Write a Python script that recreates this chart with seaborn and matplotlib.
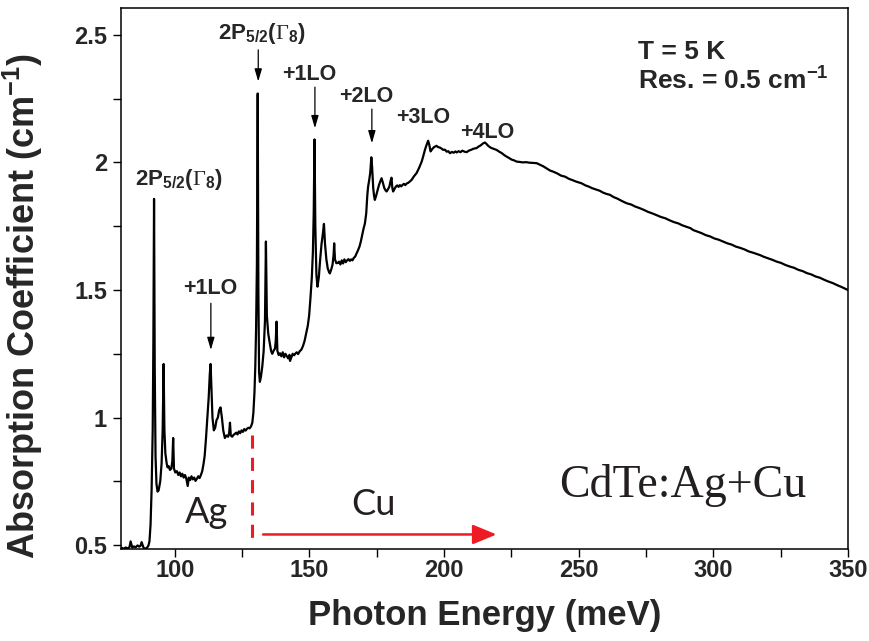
import numpy as np
import pandas as pd
import seaborn as sns
import matplotlib.pyplot as plt
from matplotlib.ticker import MultipleLocator, FuncFormatter

# spectrum (photon energy in meV, absorption in cm^-1)
energy = [80.3, 81.0, 81.8, 82.5, 83.2, 83.6, 84.2, 84.8, 85.5, 86.2, 86.8, 87.3, 87.7, 88.4, 89.0, 89.6, 90.2, 90.6,
          91.0, 91.4, 91.8, 92.05, 92.3, 92.55, 92.85, 93.2, 93.6, 94.0, 94.6, 95.1, 95.5, 95.85, 96.15, 96.5,
          97.0, 97.3, 97.7, 98.2, 98.7, 99.1, 99.4, 99.7, 100.2, 100.8, 101.3, 101.8, 102.3, 102.8, 103.3, 103.8,
          104.3, 104.8, 105.2, 105.7, 106.2, 106.7, 107.2, 107.7, 108.2, 108.7, 109.2, 109.7, 110.2, 110.7, 111.1,
          111.6, 112.1, 112.6, 113.0, 113.3, 113.6, 114.0, 114.5, 115.0, 115.5, 116.0, 116.5, 117.0, 117.5, 118.0,
          118.6, 119.2, 119.8, 120.2, 120.5, 120.8, 121.3, 121.8, 122.3, 122.8, 123.3, 123.8, 124.3, 124.8, 125.3,
          125.8, 126.3, 126.8, 127.3, 127.8, 128.3, 128.8, 129.2, 129.6, 129.9, 130.2, 130.5, 130.8, 131.05, 131.3,
          131.6, 132.0, 132.5, 133.0, 133.5, 133.85, 134.2, 134.7, 135.3, 135.8, 136.2, 136.7, 137.2, 137.5, 137.8,
          138.1, 138.6, 139.1, 139.6, 140.1, 140.6, 141.1, 141.6, 142.1, 142.6, 142.8, 143.3, 143.8, 144.3, 144.8,
          145.3, 145.8, 146.4, 147.0, 147.6, 148.2, 148.8, 149.4, 149.9, 150.4, 150.9, 151.3, 151.6, 151.9, 152.2,
          152.6, 153.0, 153.5, 154.0, 154.5, 155.0, 155.4, 155.8, 156.3, 156.8, 157.3, 157.6, 158.1, 158.6, 159.0,
          159.2, 159.5, 160.0, 160.5, 161.0, 161.5, 162.0, 162.5, 163.0, 163.5, 164.0, 164.5, 165.0, 165.5, 166.0,
          166.5, 167.0, 167.6, 168.1, 168.6, 169.1, 169.6, 170.1, 170.6, 171.1, 171.5, 171.8, 172.2, 172.6, 173.0,
          173.3, 173.7, 174.0, 174.3, 174.8, 175.3, 175.8, 176.3, 176.8, 177.3, 177.8, 178.3, 178.7, 179.2, 179.7,
          180.2, 180.5, 180.8, 181.1, 181.6, 182.1, 182.6, 183.1, 183.6, 184.1, 184.6, 185.1, 185.6, 186.1, 186.7,
          187.3, 188.0, 188.8, 189.8, 190.8, 191.7, 192.3, 192.9, 193.5, 194.1, 194.5, 195.0, 195.6, 196.3, 197.2,
          197.8, 198.5, 199.1, 199.7, 200.3, 201.0, 201.6, 202.2, 202.9, 203.6, 204.2, 204.7, 205.4, 206.1, 206.8,
          207.6, 208.4, 209.2, 210.0, 210.8, 211.5, 212.1, 212.8, 213.5, 214.1, 214.6, 215.2, 215.8, 216.5, 217.3,
          218.2, 219.5, 220.5, 221.5, 222.3, 223.2, 224.2, 225.1, 226.0, 227.0, 228.0, 229.3, 230.5, 231.6, 232.8,
          234.4, 235.6, 236.8, 238.0, 239.4, 240.5, 242.0, 243.5, 245.0, 246.3, 247.6, 249.0, 250.2, 251.1, 252.5,
          253.8, 255.0, 256.4, 257.8, 259.0, 260.2, 261.6, 263.0, 264.4, 266.0, 267.8, 269.5, 271.0, 272.6, 274.2,
          275.8, 277.4, 279.0, 280.6, 282.2, 283.8, 285.4, 287.0, 288.6, 290.2, 291.6, 292.5, 294.0, 295.6, 297.2,
          298.8, 300.4, 302.0, 303.6, 305.2, 306.8, 308.4, 310.0, 311.6, 313.2, 314.8, 316.2, 317.3, 318.8, 320.4,
          322.0, 323.6, 325.2, 326.8, 328.4, 330.0, 331.6, 333.2, 334.8, 336.4, 338.0, 339.6, 341.2, 342.8, 344.4,
          346.0, 347.6, 349.0, 350.0]
absorption = [0.490, 0.486, 0.491, 0.487, 0.493, 0.515, 0.491, 0.495, 0.492, 0.499, 0.494, 0.498, 0.512, 0.490, 0.486, 0.489, 0.498, 0.515,
              0.580, 0.720, 0.950, 1.300, 1.857, 1.200, 0.850, 0.740, 0.710, 0.715, 0.750, 0.820, 0.950, 1.210, 0.950, 0.860,
              0.820, 0.805, 0.810, 0.795, 0.800, 0.830, 0.920, 0.800, 0.785, 0.790, 0.775, 0.785, 0.770, 0.780, 0.765, 0.775,
              0.760, 0.732, 0.765, 0.755, 0.770, 0.758, 0.765, 0.752, 0.760, 0.770, 0.763, 0.775, 0.790, 0.820, 0.850,
              0.920, 1.000, 1.080, 1.170, 1.210, 1.120, 1.000, 0.950, 0.960, 0.990, 1.000, 1.030, 1.040, 1.000, 0.950,
              0.920, 0.930, 0.925, 0.940, 0.980, 0.930, 0.925, 0.932, 0.936, 0.941, 0.934, 0.946, 0.939, 0.950, 0.944,
              0.955, 0.949, 0.956, 0.960, 0.958, 0.965, 0.980, 1.020, 1.100, 1.200, 1.350, 1.600, 2.270, 1.500, 1.180,
              1.140, 1.160, 1.200, 1.260, 1.380, 1.690, 1.400, 1.330, 1.290, 1.260, 1.250, 1.262, 1.270, 1.300, 1.376,
              1.262, 1.245, 1.252, 1.240, 1.256, 1.236, 1.250, 1.241, 1.232, 1.246, 1.222, 1.236, 1.250, 1.244, 1.251,
              1.256, 1.249, 1.260, 1.266, 1.280, 1.300, 1.330, 1.360, 1.400, 1.470, 1.550, 1.650, 1.800, 2.090, 1.750,
              1.560, 1.513, 1.550, 1.620, 1.680, 1.720, 1.759, 1.680, 1.620, 1.585, 1.570, 1.565, 1.580, 1.600, 1.640,
              1.683, 1.620, 1.605, 1.606, 1.611, 1.600, 1.616, 1.604, 1.620, 1.609, 1.616, 1.621, 1.614, 1.620, 1.616,
              1.626, 1.631, 1.645, 1.657, 1.670, 1.690, 1.715, 1.740, 1.760, 1.800, 1.870, 1.905, 1.930, 1.960, 2.020,
              1.980, 1.900, 1.870, 1.853, 1.870, 1.890, 1.910, 1.925, 1.938, 1.920, 1.900, 1.890, 1.886, 1.895, 1.905,
              1.930, 1.940, 1.900, 1.886, 1.896, 1.905, 1.910, 1.904, 1.911, 1.906, 1.912, 1.916, 1.911, 1.917, 1.920,
              1.925, 1.932, 1.945, 1.958, 1.980, 2.003, 2.025, 2.049, 2.068, 2.085, 2.070, 2.043, 2.052, 2.060, 2.065,
              2.060, 2.058, 2.054, 2.049, 2.050, 2.042, 2.044, 2.036, 2.041, 2.038, 2.043, 2.039, 2.044, 2.040, 2.046,
              2.042, 2.040, 2.046, 2.049, 2.053, 2.055, 2.056, 2.062, 2.066, 2.071, 2.075, 2.078, 2.072, 2.064, 2.058,
              2.054, 2.049, 2.042, 2.036, 2.029, 2.023, 2.017, 2.011, 2.008, 2.003, 2.002, 2.000, 2.001, 1.999, 1.998,
              1.997, 1.991, 1.985, 1.977, 1.968, 1.964, 1.957, 1.948, 1.944, 1.936, 1.931, 1.925, 1.921, 1.918, 1.910,
              1.905, 1.899, 1.894, 1.889, 1.882, 1.877, 1.873, 1.864, 1.858, 1.849, 1.840, 1.835, 1.827, 1.821, 1.814,
              1.806, 1.800, 1.793, 1.786, 1.781, 1.773, 1.766, 1.761, 1.753, 1.747, 1.742, 1.735, 1.729, 1.723, 1.715,
              1.710, 1.702, 1.697, 1.690, 1.683, 1.678, 1.670, 1.665, 1.659, 1.651, 1.646, 1.641, 1.637, 1.630, 1.624,
              1.618, 1.611, 1.606, 1.598, 1.592, 1.587, 1.579, 1.574, 1.566, 1.561, 1.553, 1.548, 1.540, 1.533, 1.527,
              1.519, 1.512, 1.505, 1.500]

# peak labels: text, text x, text baseline y, arrow (x, start y, tip y) or None
peak_labels = [r"2P$_{5/2}$($\mathsf{\Gamma}_{8}$)", r"2P$_{5/2}$($\mathsf{\Gamma}_{8}$)",
               "+1LO", "+1LO", "+2LO", "+3LO", "+4LO"]
label_size = [16, 16, 15.5, 15.5, 15.5, 15.5, 15.5]
label_x = [101.5, 132.2, 113.05, 149.8, 171.2, 192.4, 215.9]
label_y = [1.912, 2.483, 1.483, 2.324, 2.235, 2.154, 2.097]
arrow_x = [None, 131.0, 113.4, 152.05, 173.2, None, None]
arrow_y0 = [None, 2.441, 1.448, 2.295, 2.209, None, None]
arrow_y1 = [None, 2.317, 1.265, 2.134, 2.075, None, None]

cu_edge = 128.5
red = "#ED1C24"

sns.set_style("ticks")
plt.rcParams["font.family"] = ["Liberation Sans", "DejaVu Sans"]
plt.rcParams["mathtext.fontset"] = "custom"
plt.rcParams["mathtext.rm"] = "Liberation Sans:bold"
plt.rcParams["mathtext.it"] = "Liberation Sans:bold"
plt.rcParams["mathtext.bf"] = "Liberation Sans:bold"
plt.rcParams["mathtext.sf"] = "Liberation Serif"
plt.rcParams["mathtext.default"] = "rm"

df = pd.DataFrame({"energy": energy, "absorption": absorption})

fig = plt.figure(figsize=(8.7, 6.41), dpi=100)
ax = fig.add_axes([0.139, 0.1435, 0.8356, 0.844])
sns.lineplot(data=df, x="energy", y="absorption", sort=False, estimator=None,
             color="black", lw=1.6, ax=ax)

ax.set_xlim(80, 350)
ax.set_ylim(0.485, 2.605)
ax.xaxis.set_major_locator(MultipleLocator(50))
ax.xaxis.set_minor_locator(MultipleLocator(25))
ax.yaxis.set_major_locator(MultipleLocator(0.5))
ax.yaxis.set_minor_locator(MultipleLocator(0.25))
ax.yaxis.set_major_formatter(FuncFormatter(lambda v, p: f"{v:g}"))
ax.tick_params(which="both", direction="out", length=6, width=1, color="black")
ax.tick_params(axis="x", pad=1)
ax.tick_params(axis="y", pad=4)
for lab in ax.get_xticklabels() + ax.get_yticklabels():
    lab.set_fontweight("bold")
    lab.set_fontsize(17)
for s in ax.spines.values():
    s.set_linewidth(1.1)
    s.set_color("black")

ax.set_xlabel("Photon Energy (meV)", fontweight="bold", fontsize=25)
ax.set_ylabel("Absorption Coefficient (cm$^{-1}$)", fontweight="bold", fontsize=26)
ax.xaxis.set_label_coords(0.5007, -0.092)
ax.yaxis.set_label_coords(-0.104, 0.449)

for i, txt in enumerate(peak_labels):
    ax.text(label_x[i], label_y[i], txt, ha="center", va="baseline",
            fontsize=label_size[i], fontweight="bold")
    if arrow_x[i] is not None:
        ax.annotate("", xy=(arrow_x[i], arrow_y1[i]), xytext=(arrow_x[i], arrow_y0[i]),
                    arrowprops=dict(arrowstyle="-|>,head_length=0.75,head_width=0.22",
                                    mutation_scale=10, lw=0.9, color="black",
                                    shrinkA=0, shrinkB=0))

ax.text(272.1, 2.406, "T = 5 K", ha="left", va="baseline", fontsize=19, fontweight="bold")
ax.text(272.1, 2.284, "Res. = 0.5 cm$^{-1}$", ha="left", va="baseline", fontsize=19, fontweight="bold")

# Ag / Cu regions
ax.plot([cu_edge, cu_edge], [0.93, 0.507], color=red, lw=2.2, linestyle=(0, (4.3, 3.0)))
ax.annotate("", xy=(219.5, 0.542), xytext=(132.8, 0.542),
            arrowprops=dict(arrowstyle="-|>,head_length=1.45,head_width=0.6",
                            mutation_scale=10, lw=1.8, color=red, shrinkA=0, shrinkB=0))
ax.text(111.8, 0.586, "Ag", ha="center", va="baseline", fontsize=26,
        family=["Lato", "DejaVu Sans"], fontweight="normal", color="#231F20")
ax.text(173.6, 0.618, "Cu", ha="center", va="baseline", fontsize=26,
        family=["Lato", "DejaVu Sans"], fontweight="normal", color="#231F20")
ax.text(288.7, 0.689, "CdTe:Ag+Cu", ha="center", va="baseline", fontsize=33,
        family=["Liberation Serif", "DejaVu Serif"], color="#231F20")

fig.savefig("out.png", dpi=100)
